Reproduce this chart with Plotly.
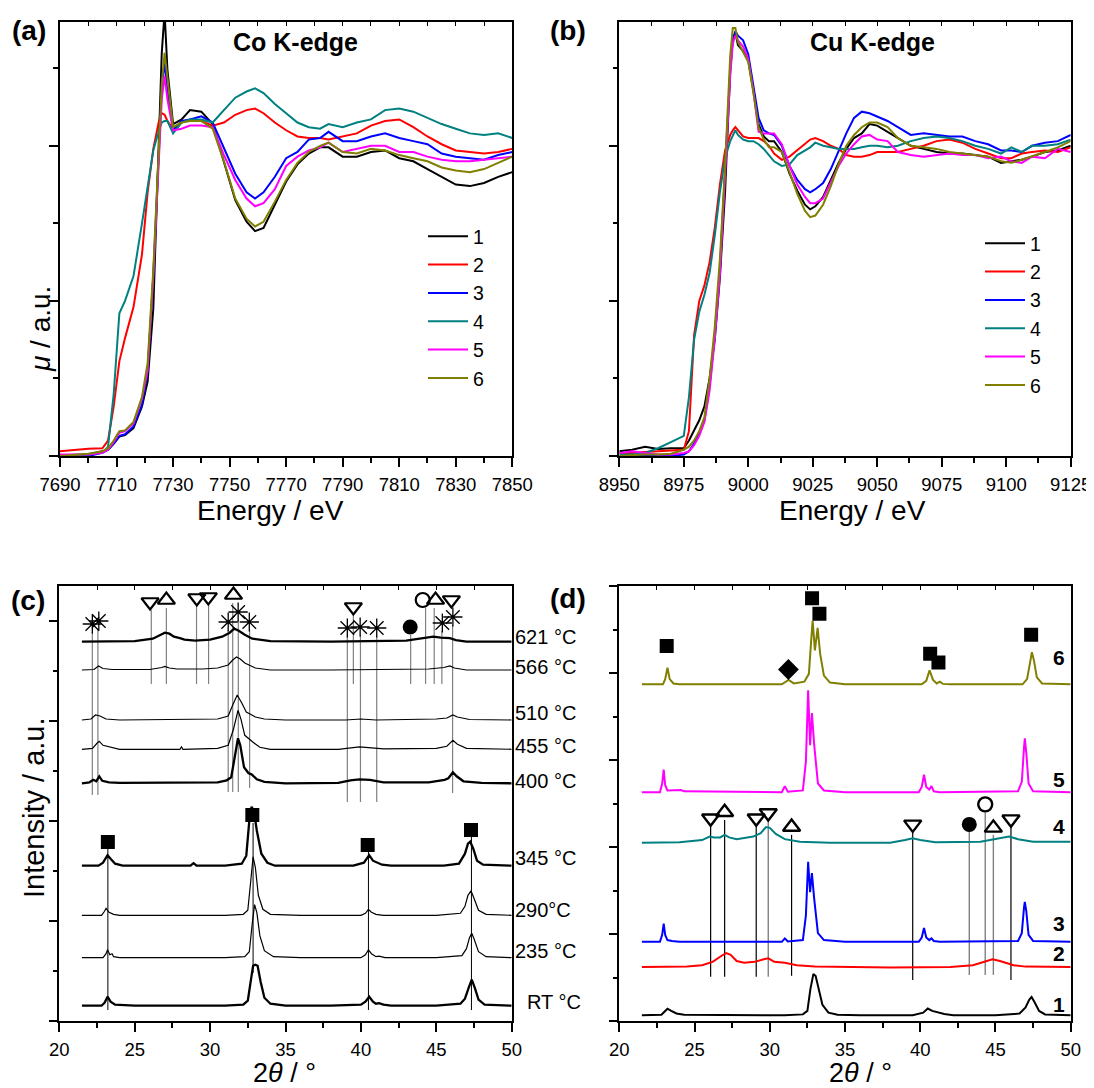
import plotly.graph_objects as go

W, H = 1094, 1088
OFF = 8  # page body margin of the browser
FONT = "Liberation Sans, Arial, sans-serif"


def px(x):
    return (x - OFF) / W


def py(y):
    return 1 - (y - OFF) / H


# ---------------- (a) Co K-edge XANES ----------------
Ea = [7690, 7700, 7705, 7707, 7709, 7711, 7713, 7716, 7719, 7721, 7723, 7725, 7726, 7727, 7728,
      7730, 7733, 7736, 7740, 7744, 7748, 7752, 7756, 7759, 7762, 7766, 7770, 7774, 7778, 7782,
      7785, 7790, 7795, 7800, 7805, 7810, 7815, 7820, 7825, 7830, 7835, 7840, 7845, 7850]
a_mu1 = [0.005, 0.01, 0.03, 0.04, 0.08, 0.125, 0.135, 0.18, 0.32, 0.48, 0.95, 2.05, 2.6, 2.86, 2.49,
         2.14, 2.17, 2.23, 2.22, 2.14, 1.9, 1.65, 1.51, 1.45, 1.47, 1.62, 1.77, 1.88, 1.95, 1.99,
         1.99, 1.93, 1.93, 1.96, 1.97, 1.92, 1.90, 1.85, 1.80, 1.75, 1.74, 1.76, 1.80, 1.83]
a_mu2 = [0.03, 0.047, 0.05, 0.1, 0.32, 0.61, 0.76, 0.96, 1.3, 1.7, 1.98, 2.16, 2.21, 2.2, 2.16,
         2.11, 2.15, 2.17, 2.16, 2.13, 2.15, 2.2, 2.23, 2.24, 2.21, 2.15, 2.10, 2.06, 2.05, 2.05,
         2.04, 2.06, 2.08, 2.13, 2.16, 2.17, 2.12, 2.06, 2.01, 1.97, 1.96, 1.95, 1.96, 1.98]
a_mu3 = [0.0, 0.0, 0.02, 0.04, 0.08, 0.13, 0.14, 0.19, 0.33, 0.54, 1.16, 2.05, 2.38, 2.54, 2.35,
         2.10, 2.16, 2.17, 2.19, 2.15, 1.98, 1.82, 1.70, 1.66, 1.70, 1.80, 1.92, 1.96, 2.04, 2.05,
         2.09, 2.03, 2.03, 2.06, 2.08, 2.05, 2.03, 2.01, 1.95, 1.93, 1.92, 1.91, 1.94, 1.96]
a_mu4 = [0.0, 0.01, 0.02, 0.06, 0.4, 0.92, 1.0, 1.16, 1.5, 1.74, 1.97, 2.1, 2.15, 2.16, 2.16,
         2.08, 2.15, 2.17, 2.17, 2.15, 2.23, 2.31, 2.35, 2.37, 2.34, 2.27, 2.21, 2.15, 2.12, 2.11,
         2.14, 2.12, 2.15, 2.17, 2.23, 2.24, 2.22, 2.18, 2.14, 2.11, 2.08, 2.07, 2.08, 2.05]
a_mu5 = [0.01, 0.01, 0.02, 0.04, 0.09, 0.15, 0.16, 0.21, 0.37, 0.55, 1.16, 1.95, 2.3, 2.45, 2.3,
         2.10, 2.11, 2.13, 2.13, 2.12, 1.94, 1.78, 1.66, 1.61, 1.63, 1.72, 1.87, 1.93, 1.97, 1.99,
         2.02, 1.96, 1.98, 2.0, 2.0, 1.96, 1.96, 1.93, 1.91, 1.90, 1.90, 1.91, 1.92, 1.93]
a_mu6 = [0.0, 0.015, 0.03, 0.05, 0.1, 0.16, 0.165, 0.22, 0.38, 0.6, 1.2, 2.0, 2.4, 2.6, 2.45,
         2.12, 2.15, 2.16, 2.16, 2.11, 1.9, 1.66, 1.53, 1.48, 1.51, 1.64, 1.78, 1.89, 1.96, 2.0,
         2.02, 1.96, 1.95, 1.98, 1.97, 1.94, 1.92, 1.90, 1.86, 1.84, 1.83, 1.85, 1.89, 1.93]

# ---------------- (b) Cu K-edge XANES ----------------
Eb = [8950, 8955, 8960, 8965, 8970, 8975, 8977, 8979, 8981, 8983, 8985, 8987, 8989, 8991, 8993,
      8994, 8995, 8996, 8998, 9000, 9002, 9004, 9006, 9008, 9010, 9013, 9016, 9019, 9022, 9024,
      9026, 9029, 9032, 9035, 9038, 9041, 9044, 9047, 9050, 9054, 9058, 9063, 9068, 9073, 9078,
      9083, 9088, 9093, 9098, 9102, 9106, 9110, 9115, 9120, 9125]
b_mu1 = [0.03, 0.04, 0.06, 0.045, 0.05, 0.05, 0.1, 0.17, 0.23, 0.32, 0.5, 0.75, 1.15, 1.7, 2.49,
         2.69, 2.73, 2.65, 2.61, 2.55, 2.36, 2.14, 2.06, 2.03, 2.03, 1.96, 1.82, 1.71, 1.62, 1.59,
         1.61, 1.67, 1.78, 1.89, 1.98, 2.05, 2.08, 2.14, 2.13, 2.09, 2.05, 2.0, 1.98, 1.96, 1.95,
         1.95, 1.94, 1.93, 1.89, 1.90, 1.91, 1.93, 1.96, 1.97, 2.0]
b_mu2 = [0.02, 0.02, 0.025, 0.03, 0.035, 0.04, 0.16, 0.78, 1.0, 1.1, 1.25, 1.47, 1.75, 1.97, 2.07,
         2.10, 2.12, 2.10, 2.06, 2.05, 2.05, 2.05, 2.03, 2.0, 1.95, 1.91, 1.93, 1.97, 2.01, 2.04,
         2.05, 2.03, 2.0, 1.98, 1.94, 1.93, 1.93, 1.94, 1.96, 1.96, 1.96, 1.98, 2.0, 2.03, 2.04,
         2.02, 1.98, 1.95, 1.92, 1.92, 1.95, 1.96, 1.97, 1.96, 1.99]
b_mu3 = [0.0, 0.0, 0.0, 0.0, 0.0, 0.01, 0.03, 0.08, 0.15, 0.23, 0.45, 0.78, 1.2, 1.83, 2.49,
         2.68, 2.74, 2.71, 2.68, 2.59, 2.38, 2.18, 2.10, 2.08, 2.07, 2.0, 1.87, 1.78, 1.72, 1.70,
         1.72, 1.76, 1.85, 1.97, 2.08, 2.18, 2.22, 2.21, 2.19, 2.16, 2.12, 2.07, 2.08, 2.07, 2.06,
         2.06, 2.03, 2.01, 1.97, 1.97, 1.96, 2.0, 2.02, 2.03, 2.07]
b_mu4 = [0.01, 0.01, 0.02, 0.05, 0.09, 0.13, 0.38, 0.75, 0.93, 1.04, 1.18, 1.42, 1.7, 1.92, 2.03,
         2.06, 2.10, 2.07, 2.04, 2.03, 2.03, 2.01, 1.98, 1.94, 1.9, 1.87, 1.88, 1.94, 1.97, 1.99,
         2.02, 2.0, 1.99, 1.98, 1.98, 1.98, 1.99, 2.0, 2.0, 1.99, 2.0, 2.03, 2.05, 2.06, 2.05,
         2.03, 2.0, 1.98, 1.95, 1.99, 1.96, 2.0, 2.0, 2.01, 2.04]
b_mu5 = [0.02, 0.03, 0.02, 0.01, 0.01, 0.02, 0.03, 0.07, 0.13, 0.22, 0.42, 0.75, 1.17, 1.78, 2.45,
         2.66, 2.71, 2.68, 2.64, 2.56, 2.35, 2.09, 2.08, 2.08, 2.08, 2.01, 1.87, 1.75, 1.67, 1.63,
         1.63, 1.66, 1.76, 1.87, 1.95, 2.01, 2.06, 2.07, 2.04, 2.03, 1.96, 1.94, 1.93, 1.94, 1.95,
         1.94, 1.94, 1.92, 1.93, 1.9, 1.89, 1.93, 1.92, 1.98, 1.96]
b_mu6 = [0.0, 0.005, 0.01, 0.01, 0.015, 0.04, 0.06, 0.1, 0.16, 0.25, 0.5, 0.83, 1.27, 1.87, 2.58,
         2.76, 2.76, 2.67, 2.60, 2.54, 2.34, 2.12, 2.04, 1.99, 1.99, 1.96, 1.83, 1.69, 1.58, 1.54,
         1.55, 1.62, 1.74, 1.88, 2.0, 2.07, 2.12, 2.15, 2.15, 2.12, 2.05, 2.0, 1.99, 1.98, 1.96,
         1.95, 1.94, 1.93, 1.90, 1.89, 1.91, 1.93, 1.96, 1.99, 2.03]

xas_names = ["1", "2", "3", "4", "5", "6"]
xas_colors = ["#000000", "#FF0000", "#0000FF", "#008080", "#FF00FF", "#808000"]

# ---------------- (c) in-situ XRD: (2theta, relative intensity) ----------------
c_RT = [(21.5, 0), (22.8, 0), (23.0, 0.03), (23.2, 0.09), (23.4, 0.04), (23.7, 0.01), (25, 0), (28, 0),
        (31, 0), (32.2, 0.01), (32.5, 0.05), (32.7, 0.25), (32.85, 0.40), (33.0, 0.41), (33.15, 0.40),
        (33.35, 0.24), (33.6, 0.08), (34.0, 0.02), (35, 0), (38, 0), (40.0, 0.01), (40.3, 0.04),
        (40.55, 0.09), (40.8, 0.04), (41.0, 0.02), (41.2, 0.025), (41.5, 0.01), (42, 0), (45, 0),
        (46.6, 0.02), (46.9, 0.07), (47.15, 0.18), (47.35, 0.26), (47.55, 0.18), (47.8, 0.06),
        (48.2, 0.01), (50, 0)]
c_235 = [(21.5, 0), (22.9, 0), (23.1, 0.04), (23.2, 0.08), (23.35, 0.03), (23.5, 0.04), (23.6, 0.01),
         (24, 0), (28, 0), (31, 0), (32.3, 0.01), (32.6, 0.06), (32.8, 0.35), (32.95, 0.53), (33.1, 0.45),
         (33.3, 0.22), (33.6, 0.07), (34.2, 0.01), (36, 0), (40, 0), (40.3, 0.03), (40.5, 0.08),
         (40.7, 0.04), (41, 0.01), (41.2, 0.015), (41.6, 0), (45, 0), (46.7, 0.02), (47.0, 0.09),
         (47.2, 0.2), (47.35, 0.245), (47.5, 0.19), (47.8, 0.06), (48.3, 0.01), (50, 0)]
c_290 = [(21.5, 0), (22.8, 0), (23.0, 0.04), (23.1, 0.07), (23.3, 0.03), (23.6, 0.01), (24, 0), (28, 0),
         (31, 0), (32.2, 0.01), (32.5, 0.05), (32.7, 0.35), (32.85, 0.585), (33.0, 0.48), (33.2, 0.2),
         (33.5, 0.06), (34.0, 0.01), (36, 0), (40, 0), (40.3, 0.02), (40.5, 0.06), (40.7, 0.03),
         (41.0, 0.01), (41.5, 0), (45, 0), (46.6, 0.02), (46.9, 0.09), (47.1, 0.2), (47.3, 0.245),
         (47.5, 0.17), (47.8, 0.05), (48.3, 0.01), (50, 0)]
c_345 = [(21.5, 0), (22.6, 0), (22.9, 0.03), (23.1, 0.08), (23.2, 0.105), (23.4, 0.07), (23.7, 0.02),
         (24.2, 0), (28.7, 0), (28.9, 0.025), (29.1, 0), (31, 0), (32.1, 0.02), (32.4, 0.1), (32.6, 0.45),
         (32.75, 0.59), (32.9, 0.55), (33.1, 0.35), (33.4, 0.12), (33.8, 0.03), (34.3, 0), (36, 0),
         (39.5, 0), (40.2, 0.03), (40.4, 0.08), (40.55, 0.105), (40.8, 0.05), (41.1, 0.03), (41.4, 0.01),
         (42, 0), (45.5, 0), (46.5, 0.02), (46.9, 0.12), (47.1, 0.22), (47.25, 0.24), (47.45, 0.17),
         (47.7, 0.05), (48.1, 0.01), (50, 0)]
c_400 = [(21.5, 0), (22.0, 0.01), (22.25, 0.035), (22.45, 0.02), (22.65, 0.07), (22.85, 0.025),
         (23.3, 0.01), (24, 0.005), (30.5, 0.01), (31.1, 0.03), (31.4, 0.06), (31.65, 0.3), (31.85, 0.45),
         (32.0, 0.38), (32.25, 0.16), (32.55, 0.1), (32.75, 0.09), (33.1, 0.04), (33.6, 0.015), (35, 0),
         (38.5, 0.005), (39.3, 0.03), (39.9, 0.04), (40.6, 0.035), (41.5, 0.01), (44.5, 0.01),
         (45.3, 0.03), (45.55, 0.035), (45.8, 0.05), (46.1, 0.11), (46.35, 0.07), (46.8, 0.02),
         (48, 0.005), (50, 0)]
c_455 = [(21.5, 0), (22.2, 0.01), (22.5, 0.06), (22.65, 0.08), (22.9, 0.04), (23.4, 0.02), (24, 0),
         (28, 0), (28.1, 0.025), (28.2, 0), (30.5, 0.01), (31.2, 0.04), (31.55, 0.2), (31.85, 0.39),
         (32.05, 0.3), (32.3, 0.14), (32.6, 0.1), (32.85, 0.07), (33.3, 0.02), (34, 0), (38.5, 0),
         (39.9, 0.025), (41.5, 0.005), (45, 0.01), (45.7, 0.03), (46.1, 0.09), (46.4, 0.05), (47, 0.01),
         (50, 0)]
c_510 = [(21.5, 0), (22.1, 0.01), (22.4, 0.05), (22.7, 0.04), (23.1, 0.01), (24, 0), (30.5, 0.01),
         (31.2, 0.04), (31.5, 0.15), (31.8, 0.25), (32.1, 0.17), (32.4, 0.08), (32.65, 0.06), (33.0, 0.03),
         (33.6, 0.01), (35, 0), (39, 0), (40, 0.01), (41, 0), (45, 0.01), (45.7, 0.02), (46.1, 0.05),
         (46.4, 0.03), (47.2, 0.005), (50, 0)]
c_566 = [(21.5, 0), (22.3, 0.005), (22.6, 0.04), (22.9, 0.015), (23.5, 0.005), (26, 0.005), (26.8, 0.025),
         (27.0, 0.035), (27.3, 0.02), (27.8, 0.01), (29.5, 0.01), (30.5, 0.02), (31.2, 0.05), (31.5, 0.1),
         (31.75, 0.13), (32.0, 0.11), (32.3, 0.07), (32.6, 0.05), (33.0, 0.02), (34, 0), (38, 0),
         (44.5, 0.01), (45.5, 0.025), (45.9, 0.04), (46.2, 0.02), (47, 0), (50, 0)]
c_621 = [(21.5, 0), (25, 0.005), (26.2, 0.03), (26.7, 0.07), (27.0, 0.09), (27.3, 0.08), (27.6, 0.05),
         (28.0, 0.035), (28.3, 0.02), (29, 0.01), (30, 0.02), (30.8, 0.05), (31.3, 0.09), (31.6, 0.13),
         (31.9, 0.11), (32.3, 0.07), (32.8, 0.03), (34, 0.005), (38, 0), (43, 0.01), (44.3, 0.04),
         (44.8, 0.05), (45.3, 0.04), (45.9, 0.035), (46.3, 0.015), (47, 0), (50, 0)]

c_labels = ["RT \u00b0C", "235 \u00b0C", "290\u00b0C", "345 \u00b0C", "400 \u00b0C",
            "455 \u00b0C", "510 \u00b0C", "566 \u00b0C", "621 \u00b0C"]
c_offsets = [0.153, 0.633, 1.057, 1.553, 2.377, 2.717, 3.01, 3.51, 3.793]
c_thick = [True, False, False, True, True, False, False, False, True]
c_label_y = [0.193, 0.703, 1.11, 1.627, 2.403, 2.75, 3.077, 3.537, 3.843]
c_data = [c_RT, c_235, c_290, c_345, c_400, c_455, c_510, c_566, c_621]

# phase markers (c)
c_ast_x = [22.19, 22.62, 31.2, 31.86, 32.6, 39.1, 39.95, 41.05, 45.4, 46.1]
c_ast_y = [3.97, 4.0, 3.99, 4.09, 3.99, 3.93, 3.94, 3.93, 3.98, 4.04]
c_tdn_x = [26.02, 29.12, 29.88, 39.5, 46.0]
c_tdn_y = [4.19, 4.23, 4.24, 4.14, 4.21]
c_tup_x = [27.1, 31.55, 44.95]
c_tup_y = [4.21, 4.26, 4.21]
c_ocirc_x, c_ocirc_y = [44.1], [4.21]
c_fcirc_x, c_fcirc_y = [43.27], [3.94]
c_sq_x = [23.22, 32.8, 40.45, 47.3]
c_sq_y = [1.79, 2.06, 1.76, 1.91]
c_ref_x = [22.19, 22.56, 26.1, 27.1, 29.1, 29.9, 31.2, 31.5, 31.87, 32.62, 39.1, 39.5, 39.97, 41.05,
           43.3, 44.29, 44.86, 45.37, 46.08]
c_ref_top = [3.89, 3.92, 4.11, 4.13, 4.15, 4.16, 3.91, 4.18, 4.01, 3.91, 3.85, 4.06, 3.86, 3.85,
             3.86, 4.13, 4.13, 3.90, 3.96]
c_ref_bot = [2.26, 2.26, 3.37, 3.37, 3.37, 3.37, 2.29, 2.29, 2.29, 2.33, 2.19, 3.37, 2.19, 2.19,
             3.37, 3.37, 3.37, 3.37, 2.28]
c_sqref_x = [23.22, 32.85, 40.5, 47.33]
c_sqref_top = [1.72, 1.98, 1.69, 1.84]
c_sqref_bot = [0.11, 0.48, 0.11, 0.11]

# ---------------- (d) ex-situ XRD ----------------
d_1 = [(21.5, 0), (22.8, 0.005), (23.0, 0.04), (23.2, 0.075), (23.45, 0.05), (23.8, 0.02), (24.3, 0.005),
       (28, 0), (31, 0), (32.2, 0.01), (32.5, 0.05), (32.7, 0.3), (32.9, 0.475), (33.05, 0.45),
       (33.25, 0.3), (33.5, 0.12), (33.9, 0.03), (34.5, 0.005), (36, 0), (39.5, 0), (40.2, 0.03),
       (40.5, 0.077), (40.8, 0.05), (41.2, 0.03), (41.6, 0.015), (42.2, 0), (45, 0), (46.6, 0.02),
       (47.0, 0.09), (47.25, 0.18), (47.4, 0.21), (47.6, 0.15), (47.9, 0.05), (48.3, 0.01), (50, 0)]
d_2 = [(21.5, 0), (24.5, 0.005), (25.5, 0.02), (26.2, 0.06), (26.8, 0.13), (27.1, 0.16), (27.4, 0.14),
       (27.8, 0.07), (28.3, 0.05), (29.0, 0.06), (29.6, 0.09), (29.9, 0.10), (30.3, 0.06), (31.0, 0.05),
       (31.8, 0.02), (33, 0.005), (38, -0.005), (42, 0), (43.5, 0.02), (44.3, 0.06), (44.8, 0.09),
       (45.3, 0.07), (46.2, 0.02), (47, 0.005), (50, 0)]
d_3 = [(21.5, 0), (22.7, 0), (22.85, 0.08), (22.95, 0.21), (23.05, 0.08), (23.2, 0.02), (23.5, 0.01),
       (24, 0), (30.8, 0), (31.0, 0.04), (31.2, 0.005), (32.2, 0.02), (32.4, 0.3), (32.55, 0.92),
       (32.68, 0.57), (32.8, 0.79), (32.95, 0.5), (33.2, 0.1), (33.6, 0.02), (35, 0), (39.9, 0),
       (40.1, 0.05), (40.25, 0.16), (40.4, 0.05), (40.6, 0.02), (40.75, 0.04), (40.9, 0.01), (41.3, 0),
       (46.5, 0.01), (46.75, 0.1), (46.9, 0.4), (46.95, 0.46), (47.05, 0.35), (47.2, 0.08), (47.5, 0.01),
       (50, 0)]
d_4 = [(21.5, 0), (24, 0.005), (25.5, 0.03), (26.0, 0.07), (26.3, 0.06), (26.7, 0.06), (27.0, 0.09),
       (27.3, 0.06), (27.8, 0.04), (28.3, 0.05), (28.9, 0.07), (29.4, 0.11), (29.75, 0.18), (30.0, 0.17),
       (30.4, 0.10), (31.0, 0.04), (32, 0.01), (34, 0), (38, 0), (39.0, 0.03), (39.5, 0.05), (40.0, 0.03),
       (41, 0.005), (44, 0.01), (45.2, 0.05), (45.9, 0.07), (46.5, 0.04), (47.5, 0.01), (50, 0.01)]
d_5 = [(21.5, 0), (22.7, 0), (22.85, 0.1), (22.95, 0.26), (23.05, 0.08), (23.2, 0.02), (24.1, 0.025),
       (24.3, 0.01), (30.8, 0), (31.0, 0.07), (31.2, 0.005), (32.2, 0.02), (32.4, 0.35), (32.55, 1.17),
       (32.68, 0.54), (32.8, 0.91), (32.95, 0.55), (33.2, 0.1), (33.6, 0.02), (35, 0), (39.9, 0),
       (40.1, 0.06), (40.25, 0.2), (40.4, 0.06), (40.6, 0.03), (40.75, 0.07), (40.9, 0.01), (41.3, 0),
       (46.5, 0.01), (46.75, 0.12), (46.9, 0.52), (46.95, 0.62), (47.05, 0.45), (47.2, 0.1), (47.5, 0.01),
       (50, 0)]
d_6 = [(21.5, 0), (22.9, 0), (23.05, 0.06), (23.2, 0.19), (23.35, 0.06), (23.6, 0.01), (24, 0), (30.8, 0),
       (31.25, 0.05), (31.6, 0.01), (32.3, 0.03), (32.6, 0.12), (32.75, 0.5), (32.85, 0.73), (33.0, 0.39),
       (33.18, 0.65), (33.35, 0.35), (33.6, 0.1), (34.0, 0.02), (35, 0), (40.1, 0), (40.4, 0.04),
       (40.62, 0.16), (40.85, 0.05), (41.1, 0.01), (41.3, 0.03), (41.5, 0.005), (42, 0), (46.8, 0),
       (47.1, 0.06), (47.3, 0.25), (47.42, 0.37), (47.55, 0.28), (47.75, 0.08), (48.1, 0.01), (50, 0)]
d_data = [d_1, d_2, d_3, d_4, d_5, d_6]
d_offsets = [0.066, 0.62, 0.91, 2.05, 2.63, 3.87]
d_labels = ["1", "2", "3", "4", "5", "6"]
d_label_y = [0.19, 0.78, 1.12, 2.24, 2.78, 4.18]

d_sq_x = [23.15, 32.81, 33.3, 40.66, 41.21, 47.37]
d_sq_y = [4.31, 4.86, 4.68, 4.22, 4.12, 4.44]
d_dia_x, d_dia_y = [31.24], [4.04]
d_tdn_x = [26.07, 29.1, 29.9, 39.5, 46.03]
d_tdn_y = [2.33, 2.33, 2.39, 2.26, 2.32]
d_tup_x = [27.0, 31.45, 44.86]
d_tup_y = [2.40, 2.23, 2.22]
d_fcirc_x, d_fcirc_y = [43.26], [2.26]
d_ocirc_x, d_ocirc_y = [44.32], [2.49]
d_refk_x = [26.07, 27.0, 29.1, 31.45, 39.5, 46.03]
d_refk_top = [2.24, 2.31, 2.24, 2.14, 2.17, 2.23]
d_refk_bot = [0.51, 0.51, 0.51, 0.52, 0.47, 0.47]
d_refg_x = [29.9, 43.26, 44.32, 44.86]
d_refg_top = [2.30, 2.18, 2.40, 2.14]
d_refg_bot = [0.51, 0.53, 0.53, 0.53]


def segs(xs, tops, bots):
    X, Y = [], []
    for x, t, b in zip(xs, tops, bots):
        X += [x, x, None]
        Y += [t, b, None]
    return X, Y


fig = go.Figure()

# (a) and (b)
a_all = [a_mu1, a_mu2, a_mu3, a_mu4, a_mu5, a_mu6]
b_all = [b_mu1, b_mu2, b_mu3, b_mu4, b_mu5, b_mu6]
for i in range(6):
    fig.add_trace(go.Scatter(x=Ea, y=a_all[i], mode="lines", name=xas_names[i],
                             line=dict(color=xas_colors[i], width=2), xaxis="x", yaxis="y",
                             legend="legend"))
for i in range(6):
    fig.add_trace(go.Scatter(x=Eb, y=b_all[i], mode="lines", name=xas_names[i],
                             line=dict(color=xas_colors[i], width=2), xaxis="x2", yaxis="y2",
                             legend="legend2"))

# (c) reference lines
X, Y = segs(c_ref_x, c_ref_top, c_ref_bot)
fig.add_trace(go.Scatter(x=X, y=Y, mode="lines", line=dict(color="#808080", width=1.2),
                         xaxis="x3", yaxis="y3", showlegend=False, hoverinfo="skip"))
X, Y = segs(c_sqref_x, c_sqref_top, c_sqref_bot)
fig.add_trace(go.Scatter(x=X, y=Y, mode="lines", line=dict(color="#000000", width=1),
                         xaxis="x3", yaxis="y3", showlegend=False, hoverinfo="skip"))
# (c) patterns
for pts, off, thick in zip(c_data, c_offsets, c_thick):
    xs = [p[0] for p in pts]
    ys = [p[1] + off for p in pts]
    fig.add_trace(go.Scatter(x=xs, y=ys, mode="lines",
                             line=dict(color="#000000", width=2.3 if thick else 1.2),
                             xaxis="x3", yaxis="y3", showlegend=False))


def mk(x, y, sym, size, xa, ya, lw=2):
    fig.add_trace(go.Scatter(x=x, y=y, mode="markers", xaxis=xa, yaxis=ya, showlegend=False,
                             marker=dict(symbol=sym, size=size, color="#000000",
                                         line=dict(color="#000000", width=lw))))


mk(c_ast_x, c_ast_y, "asterisk-open", 16, "x3", "y3", 1.3)
mk(c_tdn_x, c_tdn_y, "triangle-down-open", 15, "x3", "y3", 2.2)
mk(c_tup_x, c_tup_y, "triangle-up-open", 15, "x3", "y3", 2.2)
mk(c_ocirc_x, c_ocirc_y, "circle-open", 14, "x3", "y3", 2.2)
mk(c_fcirc_x, c_fcirc_y, "circle", 15, "x3", "y3", 0)
mk(c_sq_x, c_sq_y, "square", 14, "x3", "y3", 0)

# (d) reference lines
X, Y = segs(d_refk_x, d_refk_top, d_refk_bot)
fig.add_trace(go.Scatter(x=X, y=Y, mode="lines", line=dict(color="#000000", width=1.2),
                         xaxis="x4", yaxis="y4", showlegend=False, hoverinfo="skip"))
X, Y = segs(d_refg_x, d_refg_top, d_refg_bot)
fig.add_trace(go.Scatter(x=X, y=Y, mode="lines", line=dict(color="#808080", width=1.4),
                         xaxis="x4", yaxis="y4", showlegend=False, hoverinfo="skip"))
for i, (pts, off) in enumerate(zip(d_data, d_offsets)):
    xs = [p[0] for p in pts]
    ys = [p[1] + off for p in pts]
    fig.add_trace(go.Scatter(x=xs, y=ys, mode="lines", line=dict(color=xas_colors[i], width=2),
                             xaxis="x4", yaxis="y4", showlegend=False))
mk(d_sq_x, d_sq_y, "square", 14, "x4", "y4", 0)
mk(d_dia_x, d_dia_y, "diamond", 16, "x4", "y4", 0)
mk(d_tdn_x, d_tdn_y, "triangle-down-open", 15, "x4", "y4", 2.4)
mk(d_tup_x, d_tup_y, "triangle-up-open", 15, "x4", "y4", 2.4)
mk(d_fcirc_x, d_fcirc_y, "circle", 15, "x4", "y4", 0)
mk(d_ocirc_x, d_ocirc_y, "circle-open", 14, "x4", "y4", 2.4)

# dummy traces so that the top-tick overlay axes are drawn
for xa, ya in [("x5", "y"), ("x6", "y2"), ("x7", "y3"), ("x8", "y4")]:
    fig.add_trace(go.Scatter(x=[None], y=[None], xaxis=xa, yaxis=ya, showlegend=False,
                             hoverinfo="skip"))

AX_LINE = dict(showline=True, linecolor="black", linewidth=1.6, mirror=True,
               showgrid=False, zeroline=False)
TICKFONT = dict(family=FONT, size=18.5, color="black")


def xcfg(domain, rng, tick0, dtick, mdtick, anchor):
    d = dict(domain=domain, range=rng, anchor=anchor, tick0=tick0, dtick=dtick,
             ticks="outside", ticklen=9, tickwidth=1.5, tickcolor="black",
             minor=dict(ticks="outside", ticklen=5, tickwidth=1.5, tickcolor="black",
                        tick0=tick0, dtick=mdtick),
             tickfont=TICKFONT, ticklabelstandoff=2, automargin=False)
    d.update(AX_LINE)
    return d


def ycfg(domain, rng, anchor):
    d = dict(domain=domain, range=rng, anchor=anchor, tick0=0, dtick=1,
             ticks="outside", ticklen=9, tickwidth=1.5, tickcolor="black",
             minor=dict(ticks="outside", ticklen=5, tickwidth=1.5, tickcolor="black",
                        tick0=0, dtick=0.5),
             showticklabels=False, automargin=False)
    d.update(AX_LINE)
    return d


def topcfg(rng, tick0, dtick, overlay, anchor):
    return dict(overlaying=overlay, anchor=anchor, side="top", range=rng, tick0=tick0,
                dtick=dtick, ticks="inside", ticklen=4, tickwidth=1.2, tickcolor="black",
                showticklabels=False, showline=False, showgrid=False, zeroline=False,
                automargin=False)


dxa = [px(60), px(512.3)]
dxb = [px(619.3), px(1070.7)]
dxc = [px(59.3), px(511.7)]
dyt = [py(456), py(21.7)]
dyb = [py(1021), py(586)]

fig.update_layout(
    width=W, height=H, margin=dict(l=0, r=0, t=0, b=0, pad=0, autoexpand=False), autosize=False,
    paper_bgcolor="white", plot_bgcolor="white",
    font=dict(family=FONT, color="black"),
    xaxis=xcfg(dxa, [7690, 7850], 7690, 20, 10, "y"),
    yaxis=ycfg(dyt, [0, 2.8], "x"),
    xaxis2=xcfg(dxb, [8950, 9125], 8950, 25, 12.5, "y2"),
    yaxis2=ycfg(dyt, [0, 2.8], "x2"),
    xaxis3=xcfg(dxc, [20, 50], 20, 5, 2.5, "y3"),
    yaxis3=ycfg(dyb, [0, 4.35], "x3"),
    xaxis4=xcfg(dxb, [20, 50], 20, 5, 2.5, "y4"),
    yaxis4=ycfg(dyb, [0, 5.0], "x4"),
    xaxis5=topcfg([7690, 7850], 7690, 10, "x", "y"),
    xaxis6=topcfg([8950, 9125], 8950, 12.5, "x2", "y2"),
    xaxis7=topcfg([20, 50], 20, 2.5, "x3", "y3"),
    xaxis8=topcfg([20, 50], 20, 2.5, "x4", "y4"),
    legend=dict(x=px(423), y=py(217), xanchor="left", yanchor="top",
                font=dict(family=FONT, size=19.5, color="black"), bgcolor="rgba(0,0,0,0)",
                borderwidth=0, itemwidth=40, tracegroupgap=0),
    legend2=dict(x=px(980), y=py(224), xanchor="left", yanchor="top",
                 font=dict(family=FONT, size=19.5, color="black"), bgcolor="rgba(0,0,0,0)",
                 borderwidth=0, itemwidth=40, tracegroupgap=0),
    showlegend=True,
)

ann = []


def A(text, x, y, size, xref="paper", yref="paper", xanchor="center", yanchor="middle",
      angle=0):
    ann.append(dict(text=text, x=x, y=y, xref=xref, yref=yref, xanchor=xanchor,
                    yanchor=yanchor, showarrow=False, textangle=angle,
                    font=dict(family=FONT, size=size, color="black")))


A("<b>(a)</b>", px(29), py(31), 28)
A("<b>(b)</b>", px(568), py(31), 28)
A("<b>(c)</b>", px(28), py(600), 28)
A("<b>(d)</b>", px(568), py(598), 28)
A("<b>Co K-edge</b>", px(295), py(42), 25)
A("<b>Cu K-edge</b>", px(872), py(42), 25)
A("Energy / eV", px(270), py(510), 28)
A("Energy / eV", px(852), py(510), 28)
A("<i>\u03bc</i> / a.u.", px(40), py(329), 28, angle=-90)
A("Intensity / a.u.", px(34), py(808), 29, angle=-90)
A("2<i>\u03b8</i> / \u00b0", px(285), py(1073), 27)
A("2<i>\u03b8</i> / \u00b0", px(860), py(1073), 27)
for lab, yv in zip(c_labels, c_label_y):
    A(lab, px(525 if lab.startswith("RT") else 513), yv, 20, yref="y3", xanchor="left")
for lab, yv in zip(d_labels, d_label_y):
    A("<b>" + lab + "</b>", 49.25, yv, 21, xref="x4", yref="y4")

fig.update_layout(annotations=ann)
fig.write_html("out.html")
